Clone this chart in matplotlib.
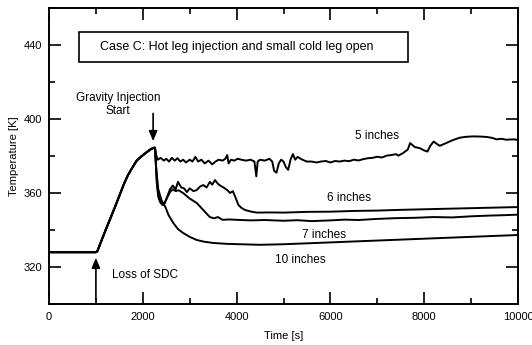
import matplotlib
matplotlib.use("Agg")
import matplotlib.pyplot as plt
from matplotlib.ticker import MultipleLocator
from matplotlib.patches import Rectangle

plt.rcParams['font.family'] = ['Liberation Sans', 'DejaVu Sans']

# common heat-up part (all cases)
t_common = [0, 1000, 1030, 1200, 1400, 1600, 1680, 1760, 1870, 1980, 2080, 2160, 2220, 2260]
T_common = [328, 328, 328.5, 339.5, 352, 365, 369.5, 373, 377.5, 380, 382, 383.5, 384.3, 384.5]

# 5 inches
t5 = [2290, 2320, 2380, 2450, 2500, 2560, 2620, 2680, 2740, 2800, 2860, 2920, 3000,
      3060, 3120, 3180, 3250, 3320, 3400, 3480, 3550, 3620, 3700, 3760, 3800, 3830,
      3880, 3950, 4020, 4100, 4200, 4300, 4380, 4420, 4450, 4500, 4600, 4700, 4760,
      4800, 4850, 4900, 4950, 5000, 5050, 5100, 5150, 5200, 5250, 5300, 5400, 5500,
      5600, 5700, 5800, 5900, 6000, 6100, 6200, 6300, 6400, 6500, 6600, 6700, 6800,
      6900, 7000, 7100, 7200, 7300, 7400, 7450, 7550, 7650, 7700, 7800, 7900, 8000,
      8070, 8130, 8200, 8330, 8470, 8600, 8760, 8900, 9050, 9200, 9330, 9450, 9540,
      9650, 9750, 9900, 10000]
T5 = [380, 378, 379, 377.5, 378.5, 377, 379, 377.5, 378.8, 377, 378, 376.5, 378,
      377, 379.5, 377, 378, 376, 377.5, 375.5, 377, 378, 377.5, 378.5, 380.5, 376,
      378, 377.5, 378.5, 378, 377.5, 378, 377, 369, 377, 378, 377.5, 378.5, 377,
      372, 371, 376, 378, 377, 374, 372.5, 378, 381, 378, 379.5, 378, 377,
      377, 376.5, 377, 377.3, 376.5, 377.3, 377, 377.5, 377.2, 378, 377.6, 378.3, 378.8,
      379, 379.6, 379.2, 380.2, 380.5, 381, 380.2, 381.6, 383.5, 387, 384.8, 384.3, 383,
      382.4, 385.5, 387.8, 385.5, 387, 388.5, 389.9, 390.4, 390.6, 390.5, 390.3, 389.8, 389,
      389.3, 388.8, 389, 388.7]

# 6 inches
t6 = [2280, 2300, 2330, 2370, 2420, 2470, 2520, 2580, 2640, 2700, 2750, 2820, 2880,
      2940, 3000, 3080, 3150, 3220, 3290, 3360, 3430, 3480, 3540, 3600, 3650, 3720,
      3800, 3860, 3920, 3970, 4000, 4040, 4100, 4180, 4300, 4430, 4700, 5000, 5500,
      6000, 6500, 7000, 7500, 8000, 8500, 9000, 9500, 10000]
T6 = [375, 365, 358, 355, 353.5, 354.5, 358, 362, 364, 362, 366, 363, 362.5,
      360.5, 362.5, 361, 361.6, 363.5, 364.3, 363, 366, 364.5, 367, 365, 364, 363,
      361.6, 360, 361, 358, 356, 353.5, 352, 350.8, 350, 349.4, 349.5, 349.4, 349.8,
      349.9, 350.3, 350.5, 350.9, 351.2, 351.5, 351.8, 352.1, 352.4]

# 7 inches
t7 = [2280, 2300, 2330, 2370, 2420, 2470, 2520, 2580, 2640, 2700, 2760, 2860,
      3000, 3150, 3300, 3430, 3520, 3600, 3700, 3850, 4000, 4300, 4600, 5000, 5300,
      5600, 6000, 6300, 6600, 7000, 7400, 7800, 8200, 8600, 9000, 9400, 9700, 10000]
T7 = [375, 366, 359, 356, 354, 355, 357.5, 360.5, 362, 361, 361.5, 360,
      357, 354.6, 350.5, 347, 346.3, 347, 345.5, 345.7, 345.5, 345.2, 345.4, 345, 345.3,
      344.8, 345.2, 345.6, 345.4, 346, 346.4, 346.6, 347, 346.8, 347.4, 347.8, 348, 348.3]

# 10 inches
t10 = [2290, 2330, 2400, 2480, 2550, 2650, 2750, 2860, 3000, 3150, 3300, 3500,
       3800, 4500, 5000, 6000, 7000, 8000, 9000, 10000]
T10 = [372, 362, 356, 352.5, 348, 343.8, 340.5, 338.4, 336.3, 334.6, 333.7, 333,
       332.5, 332, 332.3, 333.3, 334.3, 335.3, 336.3, 337.3]

xticks = [0, 2000, 4000, 6000, 8000, 10000]
yticks = [320, 360, 400, 440]

fig = plt.figure(figsize=(5.32, 3.45), dpi=100)
ax = fig.add_axes([49/532, 41/345, 469/532, 296/345])

lw = 1.4
for tt, TT in [(t5, T5), (t6, T6), (t7, T7), (t10, T10)]:
    ax.plot(t_common + tt, T_common + TT, color='black', lw=lw, solid_joinstyle='round')

ax.set_xlim(0, 10000)
ax.set_ylim(300, 460)
ax.set_xticks(xticks)
ax.set_yticks(yticks)
ax.xaxis.set_minor_locator(MultipleLocator(1000))
ax.yaxis.set_minor_locator(MultipleLocator(20))
ax.tick_params(which='both', direction='in', top=True, right=True, width=1.2, labelsize=8)
ax.tick_params(which='major', length=8.5)
ax.tick_params(which='minor', length=4)
ax.tick_params(axis='x', pad=6)
ax.tick_params(axis='y', pad=5)
for s in ax.spines.values():
    s.set_linewidth(1.4)

ax.set_xlabel('Time [s]', fontsize=8, labelpad=6)
ax.set_ylabel('Temperature [K]', fontsize=8, labelpad=3)

fs = 8.5
ax.add_patch(Rectangle((640, 430.8), 7010, 16.2, fill=False, ec='black', lw=1.2))
ax.text(1090, 439, 'Case C: Hot leg injection and small cold leg open', fontsize=9,
        va='center', ha='left')

ax.text(1470, 408, 'Gravity Injection\nStart', fontsize=fs, ha='center', va='center',
        linespacing=1.1)
ax.annotate('', xy=(2220, 386.5), xytext=(2220, 404.5),
            arrowprops=dict(arrowstyle='-|>,head_length=0.6,head_width=0.25',
                            color='black', lw=1.2))
ax.annotate('', xy=(1000, 326.5), xytext=(1000, 300.5),
            arrowprops=dict(arrowstyle='-|>,head_length=0.6,head_width=0.25',
                            color='black', lw=1.2))
ax.text(1343, 315.7, 'Loss of SDC', fontsize=fs, ha='left', va='center')

ax.text(6520, 391, '5 inches', fontsize=fs, ha='left', va='center')
ax.text(5930, 357.3, '6 inches', fontsize=fs, ha='left', va='center')
ax.text(5390, 337.3, '7 inches', fontsize=fs, ha='left', va='center')
ax.text(4820, 323.8, '10 inches', fontsize=fs, ha='left', va='center')

fig.savefig('out.png', dpi=100)
